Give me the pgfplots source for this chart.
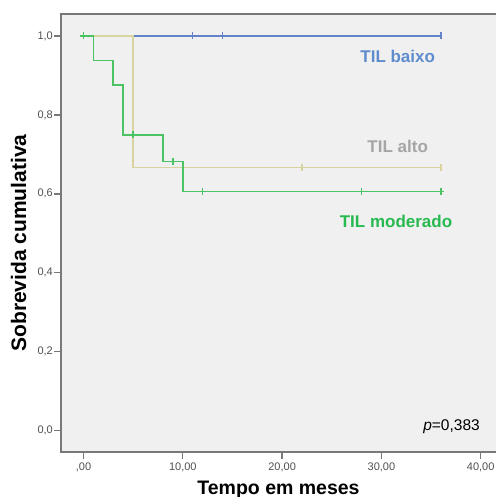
\documentclass[border=0pt]{standalone}
\usepackage{fontspec}
\setmainfont{Liberation Sans}
\usepackage{pgfplots}
\pgfplotsset{compat=1.18}
\definecolor{bline}{RGB}{100,130,200}
\definecolor{btext}{RGB}{95,140,205}
\definecolor{tline}{RGB}{215,212,160}
\definecolor{gline}{RGB}{75,195,100}
\definecolor{gtext}{RGB}{40,185,80}
\definecolor{atext}{RGB}{165,165,165}
\definecolor{frame}{RGB}{120,120,120}
\definecolor{bg}{RGB}{240,240,240}
\definecolor{ticktext}{RGB}{80,80,80}
\begin{document}
\begin{tikzpicture}
\useasboundingbox (0pt,0pt) rectangle (496pt,497pt);
\begin{axis}[
  at={(61pt,45pt)}, anchor=south west,
  scale only axis, width=435pt, height=438pt,
  xmin=-2.27, xmax=41.54, ymin=-0.054, ymax=1.0557,
  axis background/.style={fill=bg},
  axis line style={draw=none},
  tick pos=left, tick align=outside, major tick length=7pt,
  tick style={frame, line width=1.3pt},
  xtick={0,10,20,30,40},
  xticklabels={{,00},{10,00},{20,00},{30,00},{40,00}},
  ytick={0,0.2,0.4,0.6,0.8,1.0},
  yticklabels={{0,0},{0,2},{0,4},{0,6},{0,8},{1,0}},
  /pgf/number format/assume math mode=true,
  ticklabel style={font=\fontsize{11}{13}\selectfont, text=ticktext},
  xticklabel style={inner sep=0pt, yshift=-4pt},
  yticklabel style={inner sep=0pt, xshift=-1pt},
  xlabel={Tempo em meses},
  xlabel style={at={(axis description cs:0.5,0)}, anchor=base, yshift=-42pt, font=\fontsize{19.5}{22}\selectfont\bfseries},
  clip=false,
]
\draw[frame, line width=1.6pt] (rel axis cs:1,1) -- (rel axis cs:0,1) -- (rel axis cs:0,0) -- (rel axis cs:1,0);
% TIL baixo
\addplot[bline, line width=1.7pt, no marks] coordinates {(0,1) (36,1)};
\addplot[bline, line width=1.4pt, only marks, mark=|, mark size=3.5pt] coordinates {(11,1) (14,1) (36,1)};
% TIL alto
\addplot[tline, line width=1.7pt, no marks] coordinates {(0,1) (5,1) (5,0.6667) (36,0.6667)};
\addplot[tline, line width=1.4pt, only marks, mark=|, mark size=3.5pt] coordinates {(22,0.6667) (36,0.6667)};
% TIL moderado
\addplot[gline, line width=1.7pt, no marks] coordinates {(0,1) (1,1) (1,0.9375) (3,0.9375) (3,0.875) (4,0.875) (4,0.75) (8,0.75) (8,0.6818) (10,0.6818) (10,0.6061) (36,0.6061)};
\addplot[gline, line width=1.4pt, only marks, mark=+, mark size=3.5pt] coordinates {(0,1) (5,0.75) (9,0.6818) (12,0.6061) (28,0.6061) (36,0.6061)};
\node[text=btext, font=\fontsize{17}{20}\selectfont\bfseries] at (axis cs:31.64,0.947) {TIL baixo};
\node[text=atext, font=\fontsize{17}{20}\selectfont\bfseries] at (axis cs:31.64,0.721) {TIL alto};
\node[text=gtext, font=\fontsize{17}{20}\selectfont\bfseries] at (axis cs:31.47,0.529) {TIL moderado};
\node[font=\fontsize{15.5}{18}\selectfont] at (axis cs:37.06,0.0094) {\textit{p}=0,383};
\end{axis}
\node[rotate=90, anchor=base, font=\fontsize{21}{24}\selectfont\bfseries] at (26pt,254pt) {Sobrevida cumulativa};
\end{tikzpicture}
\end{document}
